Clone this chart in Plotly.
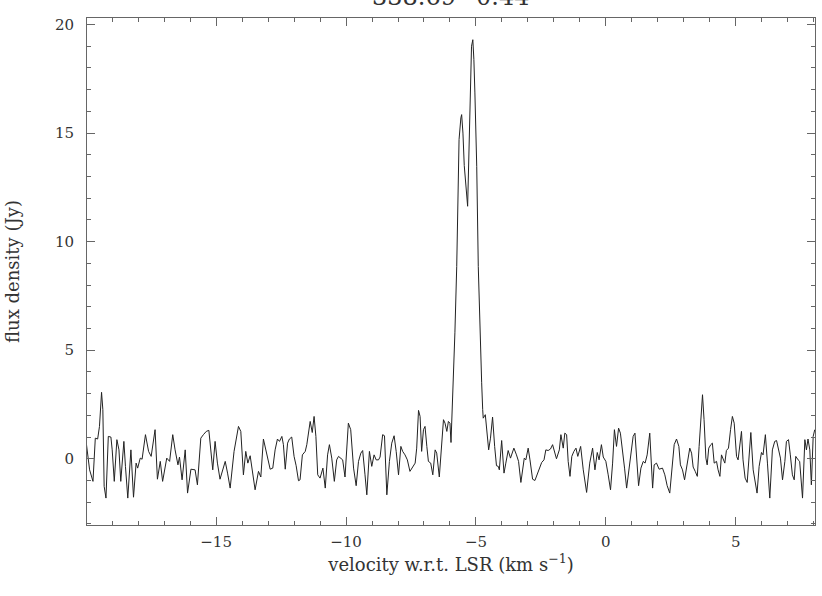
import plotly.graph_objects as go

# velocity (km/s) and flux density (Jy)
velocity = [
    -20.00, -19.87, -19.74, -19.65, -19.56, -19.49, -19.41, -19.36, -19.31, -19.24,
    -19.15, -19.05, -19.00, -18.92, -18.82, -18.74, -18.67, -18.55, -18.49, -18.40,
    -18.28, -18.18, -18.08, -18.02, -17.92, -17.85, -17.72, -17.60, -17.50, -17.44,
    -17.35, -17.26, -17.15, -17.06, -16.99, -16.90, -16.79, -16.67, -16.58, -16.47,
    -16.41, -16.31, -16.19, -16.10, -15.97, -15.81, -15.72, -15.59, -15.49, -15.38,
    -15.28, -15.20, -15.13, -15.04, -14.95, -14.85, -14.74, -14.65, -14.56, -14.46,
    -14.31, -14.20, -14.14, -14.05, -13.95, -13.86, -13.78, -13.69, -13.60, -13.50,
    -13.37, -13.28, -13.18, -13.05, -12.92, -12.82, -12.73, -12.64, -12.56, -12.47,
    -12.41, -12.34, -12.25, -12.18, -12.09, -12.00, -11.92, -11.83, -11.77, -11.68,
    -11.57, -11.51, -11.45, -11.38, -11.30, -11.23, -11.16, -11.09, -11.00, -10.89,
    -10.80, -10.71, -10.64, -10.55, -10.45, -10.36, -10.29, -10.20, -10.13, -10.04,
    -9.97, -9.91, -9.82, -9.71, -9.61, -9.52, -9.43, -9.36, -9.27, -9.20,
    -9.10, -9.01, -8.92, -8.84, -8.75, -8.69, -8.59, -8.52, -8.43, -8.33,
    -8.24, -8.15, -8.07, -7.98, -7.89, -7.82, -7.73, -7.64, -7.54, -7.43,
    -7.34, -7.28, -7.21, -7.15, -7.09, -7.02, -6.96, -6.89, -6.83, -6.74,
    -6.66, -6.57, -6.51, -6.41, -6.32, -6.25, -6.19, -6.12, -6.06, -6.00,
    -5.96, -5.92, -5.87, -5.81, -5.74, -5.68, -5.65, -5.58, -5.55, -5.50,
    -5.45, -5.32, -5.23, -5.17, -5.12, -5.08, -5.04, -4.97, -4.91, -4.85,
    -4.78, -4.74, -4.72, -4.64, -4.59, -4.51, -4.44, -4.36, -4.28, -4.21,
    -4.14, -4.10, -4.01, -3.92, -3.85, -3.76, -3.67, -3.54, -3.44, -3.36,
    -3.27, -3.20, -3.14, -3.08, -2.99, -2.92, -2.82, -2.73, -2.64, -2.56,
    -2.47, -2.38, -2.31, -2.22, -2.13, -2.05, -1.96, -1.90, -1.79, -1.73,
    -1.64, -1.58, -1.51, -1.45, -1.38, -1.31, -1.23, -1.15, -1.08, -0.97,
    -0.87, -0.74, -0.62, -0.51, -0.42, -0.33, -0.26, -0.17, -0.10, 0.00,
    0.09, 0.18, 0.26, 0.33, 0.41, 0.49, 0.56, 0.64, 0.72, 0.80,
    0.87, 0.95, 1.05, 1.12, 1.18, 1.26, 1.35, 1.44, 1.51, 1.59,
    1.69, 1.76, 1.80, 1.86, 1.95, 2.05, 2.18, 2.27, 2.36, 2.46,
    2.57, 2.63, 2.72, 2.81, 2.87, 2.95, 3.03, 3.13, 3.23, 3.30,
    3.36, 3.44, 3.52, 3.59, 3.66, 3.72, 3.78, 3.85, 3.90, 3.96,
    4.04, 4.10, 4.17, 4.26, 4.32, 4.39, 4.45, 4.52, 4.58, 4.64,
    4.72, 4.80, 4.87, 4.94, 5.03, 5.09, 5.16, 5.22, 5.28, 5.36,
    5.44, 5.51, 5.58, 5.67, 5.73, 5.82, 5.90, 5.99, 6.05, 6.14,
    6.22, 6.31, 6.41, 6.50, 6.57, 6.66, 6.72, 6.80, 6.89, 6.95,
    7.03, 7.10, 7.18, 7.25, 7.31, 7.40, 7.46, 7.57, 7.66, 7.72,
    7.78, 7.85, 7.91, 7.98, 8.04,
]
flux = [
    0.75, -0.51, -1.04, 0.95, 0.91, 1.49, 3.06, 2.26, -1.27, -1.81,
    1.03, 1.00, 0.41, -1.04, 0.88, 0.41, -1.04, 0.80, -0.35, -1.81,
    0.41, -1.77, -0.20, -0.43, 0.03, -0.02, 1.11, 0.34, 0.11, 0.57,
    1.34, -0.94, -0.12, -1.04, -0.51, 0.03, -0.12, 1.11, 0.41, -0.28,
    0.08, -0.97, 0.41, -1.58, -0.48, -0.51, -1.20, 0.95, 1.11, 1.26,
    1.31, 0.18, -0.51, 0.80, -0.20, -0.94, -0.51, -0.12, -0.66, -1.35,
    0.34, 1.18, 1.49, 1.26, -0.74, 0.34, -0.20, 0.14, -0.54, -1.43,
    -0.58, -0.84, 0.91, 0.18, -0.48, -0.43, 0.41, 0.91, 0.80, 1.03,
    0.65, -0.48, 0.72, 0.91, 1.00, 0.11, -0.32, -1.01, -0.97, 0.18,
    0.34, 0.65, 1.11, 1.72, 1.21, 1.95, 1.03, -0.74, -0.89, -0.43,
    -1.35, 0.18, 0.65, 0.03, -1.04, -0.05, 0.11, 0.03, -0.05, -0.84,
    0.80, 1.64, 1.34, -0.43, -1.24, -0.12, 0.26, 0.38, -0.74, -1.66,
    0.34, -0.35, 0.18, -0.05, -0.05, 0.08, 1.11, 1.06, -1.66, -0.12,
    0.72, 1.06, 0.34, -0.74, 0.57, 0.34, 0.18, -0.05, -0.58, -0.35,
    -0.20, 0.49, 2.23, 1.95, 0.34, 1.34, 1.49, 0.57, -0.12, -0.20,
    -0.74, 0.41, 0.26, -0.84, 0.65, 1.80, 1.64, 1.26, 1.72, 1.64,
    0.75, 2.00, 3.80, 5.80, 8.86, 11.90, 14.70, 15.70, 15.85, 15.00,
    13.50, 11.63, 16.50, 19.00, 19.30, 18.40, 16.85, 13.47, 8.86, 5.80,
    3.50, 2.26, 1.87, 2.03, 1.49, 0.41, 0.95, 1.92, 0.57, -0.32,
    -0.35, -0.51, 0.84, -0.66, -0.20, 0.38, 0.03, 0.49, 0.18, -0.12,
    -1.09, -0.38, 0.03, -0.05, 0.49, -0.05, -0.94, -1.00, -0.74, -0.51,
    -0.17, -0.05, 0.41, 0.38, 0.45, 0.65, 0.18, 0.00, 0.41, 1.11,
    0.49, 1.18, 1.11, -0.12, -0.81, 0.11, 0.34, 0.49, 0.11, 0.57,
    -0.51, -1.55, -0.20, 0.49, -0.51, 0.29, -0.05, 0.65, 0.08, -0.12,
    -0.74, -1.43, -0.20, 1.34, 0.57, 1.41, 1.18, 0.49, -0.43, -1.35,
    -0.66, 0.11, 1.03, 1.18, 0.26, -1.24, -0.43, -0.12, -0.20, 0.18,
    1.18, -0.12, -1.35, -0.28, -0.20, -0.48, -0.43, -0.74, -1.24, -1.58,
    -0.20, 0.65, 0.91, 0.57, -0.28, -0.51, -0.97, -0.12, 0.49, 0.26,
    -0.38, -0.58, -0.81, 0.57, 2.10, 2.95, 1.80, 0.03, -0.28, 0.49,
    0.65, 0.72, -0.20, -0.12, -0.51, -0.81, 0.18, -0.05, -0.20, 0.38,
    0.49, 1.34, 1.95, 1.64, 0.11, -0.05, 0.65, 1.26, -0.05, -0.89,
    -1.09, 0.11, 1.21, -0.51, -0.97, -1.58, -0.35, 0.29, 0.18, 1.11,
    -0.20, -1.81, 0.41, 0.80, 0.84, 0.34, 0.03, -0.97, -0.12, 0.80,
    0.88, 0.18, -0.74, -0.97, 0.11, -0.05, -0.12, -1.81, 0.88, 0.41,
    0.91, 0.41, -1.20, 1.03, 1.34,
]

title_text = '338.69\u22120.44'
x_title = 'velocity w.r.t. LSR (km s<sup>\u22121</sup>)'
y_title = 'flux density (Jy)'

axis_color = '#666666'
text_color = '#333333'

fig = go.Figure()
fig.add_trace(go.Scatter(x=velocity, y=flux, mode='lines',
                         line=dict(color='#222222', width=1), showlegend=False))

axis_common = dict(showline=True, linecolor=axis_color, linewidth=1, mirror='allticks',
                   ticks='inside', ticklen=8, tickwidth=1, tickcolor=axis_color,
                   showgrid=False, zeroline=False, automargin=False,
                   tickfont=dict(family='DejaVu Serif', size=15, color=text_color))

fig.update_layout(
    width=822, height=596,
    margin=dict(l=87, r=7, t=18, b=71),
    paper_bgcolor='white', plot_bgcolor='white',
    font=dict(family='DejaVu Serif', size=15, color=text_color),
    xaxis=dict(range=[-19.97, 8.05], dtick=5, tick0=0,
               minor=dict(ticks='inside', ticklen=4, dtick=1, tickcolor=axis_color),
               ticklabelstandoff=3,
               title=dict(text=x_title, standoff=0,
                          font=dict(family='DejaVu Serif', size=18, color=text_color)),
               **axis_common),
    yaxis=dict(range=[-3.05, 20.3], dtick=5, tick0=0,
               minor=dict(ticks='inside', ticklen=4, dtick=1, tickcolor=axis_color),
               ticklabelstandoff=9,
               title=dict(text=y_title, standoff=30,
                          font=dict(family='DejaVu Serif', size=18, color=text_color)),
               **axis_common),
)

# title sits at the very top, partly cut off as in the original
fig.add_annotation(text=title_text, xref='paper', yref='paper', x=0.5, y=1,
                   xanchor='center', yanchor='bottom', yshift=5, showarrow=False,
                   font=dict(family='DejaVu Serif', size=24, color=text_color))

fig.write_html('out.html', config={'displayModeBar': False},
               post_script="document.body.style.margin='0';")
